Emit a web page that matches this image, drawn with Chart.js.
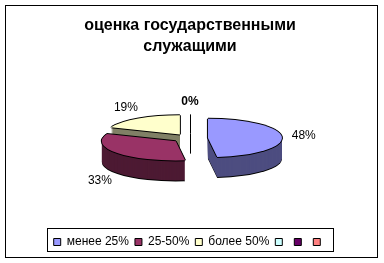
<!DOCTYPE html>
<html>
<head>
<meta charset="utf-8">
<script src="https://cdn.jsdelivr.net/npm/chart.js@4/dist/chart.umd.min.js"></script>
<style>
  html, body { margin: 0; padding: 0; background: #fff; }
  #wrap { width: 384px; height: 263px; }
</style>
</head>
<body>
<div id="wrap"><canvas id="chart" width="384" height="263"></canvas></div>
<script>
// ===== DATA =====
const TITLE_LINES = ['оценка государственными', 'служащими'];
const CATEGORIES = ['менее 25%', '25-50%', 'более 50%', '', '', ''];
const SHARES = [48, 33, 19, 0, null, null];

// top faces and darker side walls (Excel 2003 palette)
const TOP_COLORS  = ['#9999ff', '#993366', '#ffffcc', '#ccffff', '#660066', '#ff8080'];
const SIDE_COLORS = ['#4d4d80', '#4d1a33', '#808066', '#668080', '#330033', '#804040'];

const FONT = '"Liberation Sans", Arial, sans-serif';

// ===== FAKE 3D PIE =====
// squash the pie vertically and stack copies underneath for the side walls
const pie3d = {
  id: 'pie3d',
  beforeDatasetsDraw(chart, args, o) {
    const ctx = chart.ctx;
    const arcs = chart.getDatasetMeta(0).data;
    const cx = arcs[0].x, cy = arcs[0].y;

    const paint = (dx, dy, colors) => {
      arcs.forEach((arc, i) => {
        if (!arc.circumference) return;
        const mid = (arc.startAngle + arc.endAngle) / 2;
        ctx.save();
        ctx.translate(cx + dx, cy + dy);
        ctx.scale(1, o.tilt);
        ctx.translate(-cx + Math.cos(mid) * o.explode, -cy + Math.sin(mid) * o.explode);
        const bg = arc.options.backgroundColor;
        arc.options.backgroundColor = Array.isArray(colors) ? colors[i] : colors;
        arc.draw(ctx);
        arc.options.backgroundColor = bg;
        ctx.restore();
      });
    };

    paint(0, o.depth + 1, o.edge);
    for (let d = o.depth; d > 0; d--) paint(0, d, SIDE_COLORS);
    paint(0, -1, o.edge); paint(-1, 0, o.edge); paint(1, 0, o.edge); paint(0, 1, o.edge);
    paint(0, 0, TOP_COLORS);

    // zero slices are only a cut line
    ctx.save();
    ctx.strokeStyle = o.edge;
    ctx.lineWidth = 1;
    arcs.forEach((arc, i) => {
      if (arc.circumference || SHARES[i] === null) return;
      const a = arc.startAngle;
      const px = cx + Math.cos(a) * o.explode, py = cy + Math.sin(a) * o.explode * o.tilt;
      const rx = cx + Math.cos(a) * (o.explode + arc.outerRadius);
      const ry = cy + Math.sin(a) * (o.explode + arc.outerRadius) * o.tilt;
      ctx.beginPath();
      ctx.moveTo(Math.round(rx) + 0.5, ry);
      ctx.lineTo(Math.round(px) + 0.5, py);
      ctx.lineTo(Math.round(px) + 0.5, py + o.depth);
      ctx.stroke();
    });
    ctx.restore();

    // percentage labels
    const total = SHARES.reduce((s, v) => s + (v || 0), 0);
    ctx.save();
    ctx.fillStyle = '#000';
    ctx.textAlign = 'center';
    ctx.textBaseline = 'middle';
    arcs.forEach((arc, i) => {
      if (SHARES[i] === null) return;
      const a = (arc.startAngle + arc.endAngle) / 2;
      const R = arc.outerRadius + o.labelGap;
      const s = Math.sin(a);
      const x = cx + Math.cos(a) * R;
      const y = cy + s * R * o.labelTilt + (s > 0 ? o.depth : 0);
      ctx.font = (o.boldLabels.includes(i) ? 'bold ' : '') + '12px ' + FONT;
      ctx.fillText(Math.round(SHARES[i] / total * 100) + '%', x, y);
    });
    ctx.restore();
    return false;
  }
};

// outer frame and legend frame
const frames = {
  id: 'frames',
  afterDraw(chart) {
    const ctx = chart.ctx;
    ctx.save();
    ctx.strokeStyle = '#000';
    ctx.lineWidth = 1;
    ctx.strokeRect(5.5, 5.5, 372, 252);
    const boxes = chart.legend.legendHitBoxes;
    if (boxes && boxes.length) {
      const l = Math.min(...boxes.map(b => b.left));
      const r = Math.max(...boxes.map(b => b.left + b.width));
      const t = Math.min(...boxes.map(b => b.top));
      const b = Math.max(...boxes.map(b => b.top + b.height));
      ctx.strokeRect(Math.round(l) - 6.5, Math.round(t) - 7.5, Math.round(r - l) + 13, Math.round(b - t) + 11);
    }
    ctx.restore();
  }
};

const baseLabels = (Chart.overrides.pie || Chart.overrides.doughnut).plugins.legend.labels.generateLabels;

new Chart(document.getElementById('chart'), {
  type: 'pie',
  data: {
    labels: CATEGORIES,
    datasets: [{ data: SHARES, backgroundColor: TOP_COLORS, borderWidth: 0 }]
  },
  options: {
    responsive: false,
    animation: false,
    radius: 74,
    layout: { padding: { left: 0, right: 4, top: 0, bottom: 5 } },
    plugins: {
      tooltip: { enabled: false },
      title: {
        display: true,
        text: TITLE_LINES,
        color: '#000',
        font: { family: FONT, size: 16, weight: 'bold', lineHeight: 1.3 },
        padding: { top: 15, bottom: -10 }
      },
      legend: {
        position: 'bottom',
        labels: {
          color: '#000',
          font: { family: FONT, size: 12 },
          boxWidth: 7,
          boxHeight: 7,
          padding: 6,
          generateLabels(chart) {
            return baseLabels(chart).map(it => Object.assign(it, { strokeStyle: '#000', lineWidth: 1, hidden: false }));
          }
        },
        onClick: null
      },
      pie3d: { tilt: 0.26, depth: 20, explode: 18, edge: '#000', labelGap: 40, labelTilt: 0.32, boldLabels: [3] }
    }
  },
  plugins: [pie3d, frames]
});
</script>
</body>
</html>
